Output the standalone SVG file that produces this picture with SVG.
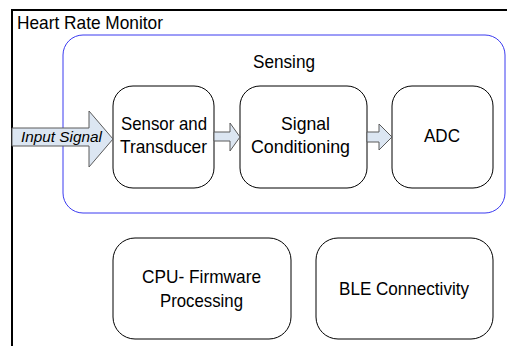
<svg xmlns="http://www.w3.org/2000/svg" width="507" height="346" viewBox="0 0 507 346">
<style>
text{font-family:"Liberation Sans",Arial,sans-serif;font-size:18.5px;fill:#000}
.c{text-anchor:middle}
.node{fill:#fff;stroke:#000;stroke-width:1}
.arr{fill:#dce6f2;stroke:#5a5a5a;stroke-width:1}
</style>
<rect width="507" height="346" fill="#fff"/>
<g id="heart-rate-monitor">
<rect x="12" y="10" width="520" height="360" fill="none" stroke="#000" stroke-width="2"/>
<text x="17" y="29" textLength="146" lengthAdjust="spacingAndGlyphs">Heart Rate Monitor</text>
</g>
<g id="sensing">
<rect x="63" y="35" width="442" height="178" rx="20" fill="none" stroke="#3b3bf0" stroke-width="1"/>
<text class="c" x="284" y="68" textLength="62" lengthAdjust="spacingAndGlyphs">Sensing</text>
</g>
<g id="sensor">
<rect class="node" x="113" y="86" width="101" height="102" rx="20"/>
<text class="c" x="164" y="130" textLength="86" lengthAdjust="spacingAndGlyphs">Sensor and</text>
<text class="c" x="163.5" y="153" textLength="87" lengthAdjust="spacingAndGlyphs">Transducer</text>
</g>
<g id="conditioning">
<rect class="node" x="240" y="86" width="127" height="102" rx="20"/>
<text class="c" x="305.5" y="130" textLength="49" lengthAdjust="spacingAndGlyphs">Signal</text>
<text class="c" x="300.5" y="153" textLength="99" lengthAdjust="spacingAndGlyphs">Conditioning</text>
</g>
<g id="adc">
<rect class="node" x="392" y="86" width="101" height="102" rx="20"/>
<text class="c" x="442" y="142" textLength="36" lengthAdjust="spacingAndGlyphs">ADC</text>
</g>
<g id="cpu">
<rect class="node" x="113" y="238" width="178" height="101" rx="22"/>
<text class="c" x="201.5" y="283" textLength="119" lengthAdjust="spacingAndGlyphs">CPU- Firmware</text>
<text class="c" x="201.5" y="307" textLength="83" lengthAdjust="spacingAndGlyphs">Processing</text>
</g>
<g id="ble">
<rect class="node" x="316" y="238" width="177" height="101" rx="22"/>
<text class="c" x="404" y="295" textLength="130" lengthAdjust="spacingAndGlyphs">BLE Connectivity</text>
</g>
<g id="connectors">
<path class="arr" d="M12,128 H89 V111 L113,139 L89,167 V146 H12 Z"/>
<text x="21" y="142" style="font-size:15.5px;font-style:italic" textLength="81" lengthAdjust="spacingAndGlyphs">Input Signal</text>
<path class="arr" d="M214,132 H230 V123 L240,137 L230,151 V141 H214 Z"/>
<path class="arr" d="M367,132 H379 V124 L392,137 L379,150 V142 H367 Z"/>
</g>
</svg>
